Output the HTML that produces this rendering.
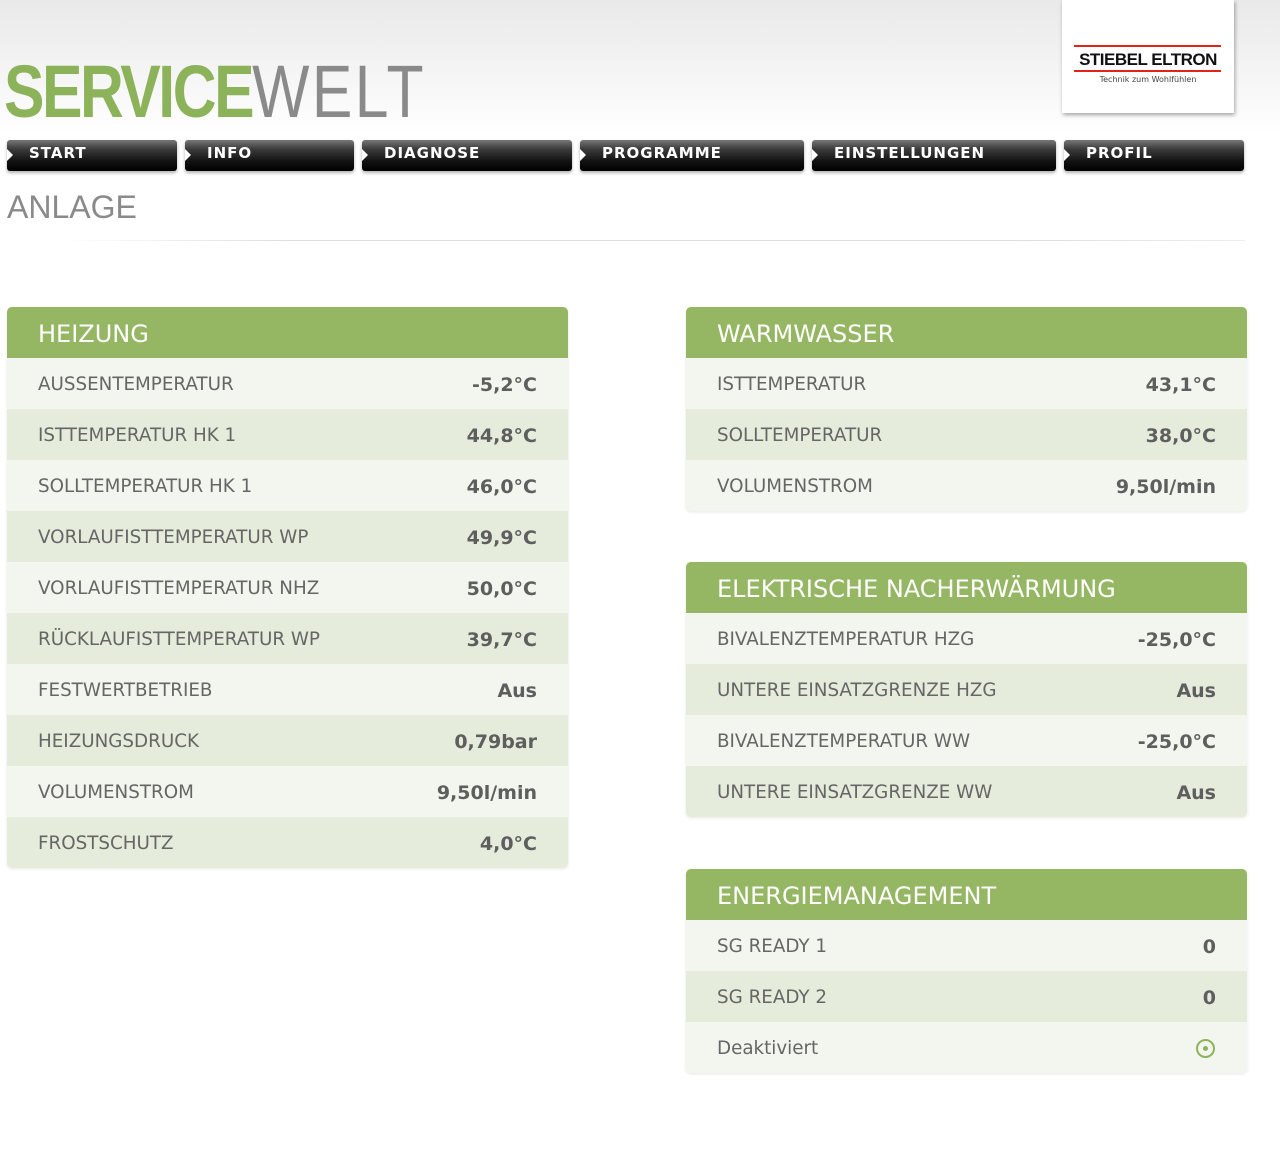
<!DOCTYPE html>
<html><head><meta charset="utf-8"><style>
*{margin:0;padding:0;box-sizing:border-box}
body{width:1280px;height:1155px;position:relative;background:#fff;font-family:"DejaVu Sans","Liberation Sans",sans-serif;overflow:hidden}
.top{position:absolute;left:0;top:0;width:1280px;height:135px;background:linear-gradient(#e9e9e9,#fff)}
.logo1{position:absolute;left:4px;top:50px;font-family:"Liberation Sans",sans-serif;font-size:74px;letter-spacing:-3px;font-weight:bold;color:#8db35a;transform:scaleX(0.82);transform-origin:left;line-height:84px}
.logo1 span{color:#8a8a8a;font-weight:normal;letter-spacing:3px}
.brand{position:absolute;left:1062px;top:0;width:172px;height:113px;background:#fff;box-shadow:1px 2px 4px rgba(0,0,0,.35)}
.brand .l{position:absolute;left:12px;width:147px;height:2px;background:#e2231a}
.brand .t{position:absolute;left:10px;top:50px;width:152px;text-align:center;font-family:"Liberation Sans",sans-serif;font-weight:bold;font-size:17px;color:#111;letter-spacing:-0.5px}
.brand .s{position:absolute;left:10px;top:75px;width:152px;text-align:center;font-size:8px;color:#444}
.nav{position:absolute;top:140px;height:31px;background:linear-gradient(#777 0%,#3a3a3a 30%,#111 70%,#000);border-radius:3px;box-shadow:0 2px 3px rgba(0,0,0,.3);color:#fff;font-weight:bold;font-size:15px;line-height:27px;padding-left:22px;letter-spacing:1px}
.nav:before{content:"";position:absolute;left:0;top:9px;border-left:6px solid #fff;border-top:6px solid transparent;border-bottom:6px solid transparent}
.anl{position:absolute;left:7px;top:189px;font-size:32px;color:#8a8a8a;font-family:"Liberation Sans",sans-serif}
.hr{position:absolute;left:60px;top:240px;width:1185px;height:1px;background:linear-gradient(90deg,#fff,#ddd 20%,#ddd 80%,#eee)}
.p{position:absolute;width:561px;border-radius:5px;overflow:hidden;box-shadow:0 1px 3px rgba(0,0,0,.1)}
.h{height:51px;background:#95b662;color:#fff;font-size:24px;line-height:54px;padding-left:31px}
.r{height:51px;position:relative;background:#f3f6ee;color:#666;font-size:18.3px;line-height:54px;padding-left:31px}
.r:nth-child(odd){background:#e5ecdb}
.r b{position:absolute;right:31px;top:0;color:#5e5e5e;font-size:19px}
.r i{position:absolute;right:32px;top:17px;width:19px;height:19px;border:2px solid #8db35a;border-radius:50%}
.r i:after{content:"";position:absolute;left:5px;top:5px;width:5px;height:5px;border-radius:50%;background:#8db35a}
</style></head><body>
<div class="top"></div>
<div class="logo1">SERVICE<span>WELT</span></div>
<div class="brand"><div class="l" style="top:45px"></div><div class="t">STIEBEL ELTRON</div><div class="l" style="top:70px"></div><div class="s">Technik zum Wohlfühlen</div></div>
<div class="nav" style="left:7px;width:170px">START</div>
<div class="nav" style="left:185px;width:169px">INFO</div>
<div class="nav" style="left:362px;width:210px">DIAGNOSE</div>
<div class="nav" style="left:580px;width:224px">PROGRAMME</div>
<div class="nav" style="left:812px;width:244px">EINSTELLUNGEN</div>
<div class="nav" style="left:1064px;width:180px">PROFIL</div>
<div class="anl">ANLAGE</div>
<div class="hr"></div>
<div class="p" style="left:7px;top:307px">
<div class="h">HEIZUNG</div>
<div class="r">AUSSENTEMPERATUR<b>-5,2°C</b></div>
<div class="r">ISTTEMPERATUR HK 1<b>44,8°C</b></div>
<div class="r">SOLLTEMPERATUR HK 1<b>46,0°C</b></div>
<div class="r">VORLAUFISTTEMPERATUR WP<b>49,9°C</b></div>
<div class="r">VORLAUFISTTEMPERATUR NHZ<b>50,0°C</b></div>
<div class="r">RÜCKLAUFISTTEMPERATUR WP<b>39,7°C</b></div>
<div class="r">FESTWERTBETRIEB<b>Aus</b></div>
<div class="r">HEIZUNGSDRUCK<b>0,79bar</b></div>
<div class="r">VOLUMENSTROM<b>9,50l/min</b></div>
<div class="r">FROSTSCHUTZ<b>4,0°C</b></div>
</div>
<div class="p" style="left:686px;top:307px">
<div class="h">WARMWASSER</div>
<div class="r">ISTTEMPERATUR<b>43,1°C</b></div>
<div class="r">SOLLTEMPERATUR<b>38,0°C</b></div>
<div class="r">VOLUMENSTROM<b>9,50l/min</b></div>
</div>
<div class="p" style="left:686px;top:562px">
<div class="h">ELEKTRISCHE NACHERWÄRMUNG</div>
<div class="r">BIVALENZTEMPERATUR HZG<b>-25,0°C</b></div>
<div class="r">UNTERE EINSATZGRENZE HZG<b>Aus</b></div>
<div class="r">BIVALENZTEMPERATUR WW<b>-25,0°C</b></div>
<div class="r">UNTERE EINSATZGRENZE WW<b>Aus</b></div>
</div>
<div class="p" style="left:686px;top:869px">
<div class="h">ENERGIEMANAGEMENT</div>
<div class="r">SG READY 1<b>0</b></div>
<div class="r">SG READY 2<b>0</b></div>
<div class="r">Deaktiviert<i></i></div>
</div>
</body></html>
